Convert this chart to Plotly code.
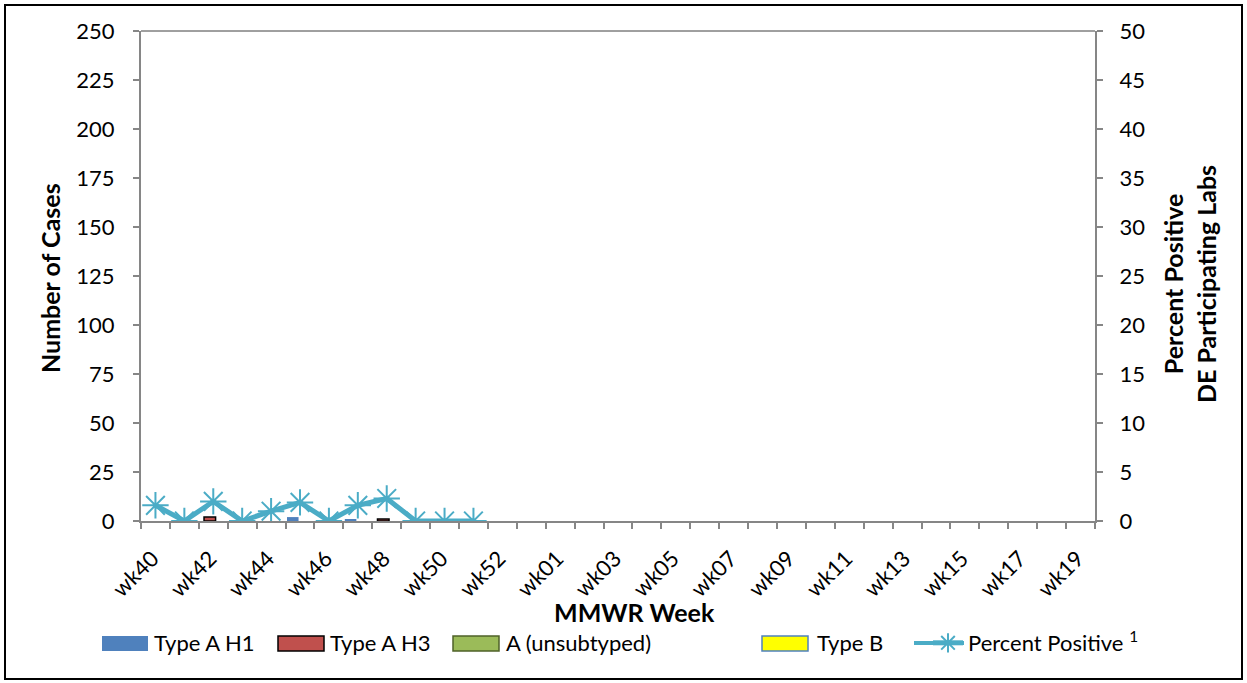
import plotly.graph_objects as go

weeks = [f"wk{w}" for w in range(40, 54)] + [f"wk{w:02d}" for w in range(1, 20)]
n = len(weeks)

type_a_h1 = [0, 0, 0, 0, 0, 2, 0, 1, 0] + [0] * (n - 9)
type_a_h3 = [0, 0, 2, 0, 0, 0, 0, 0, 1] + [0] * (n - 9)
a_unsubtyped = [0] * n
type_b = [0] * n
pct_positive = [1.6, 0, 2.0, 0, 1.0, 1.9, 0, 1.6, 2.3, 0, 0, 0] + [None] * (n - 12)

tick_text = [w if i % 2 == 0 else "" for i, w in enumerate(weeks)]

FONT = "Lato"
W, H = 1245, 681
L, T = 141, 31
PR, PB = 1095, 521  # plot right / bottom in page pixels
R, B = W - PR, H - PB
pw, ph = PR - L, PB - T


def px(x):
    return (x - L) / pw


def py(y):
    return (PB - y) / ph


def lw(vals, w):
    return [w if v else 0 for v in vals]


fig = go.Figure()

bw = 0.4
series = [
    ("Type A H1", type_a_h1, "#4F81BD", "#4F81BD", 0.0, -0.45),
    ("Type A H3", type_a_h3, "#C0504D", "black", 1.5, -0.32),
    ("A (unsubtyped)", a_unsubtyped, "#9BBB59", "#4F6228", 1.5, -0.15),
    ("Type B", type_b, "#FFFF00", "#4F81BD", 1.5, 0.0),
]
for name, vals, fill, edge, ew, off in series:
    fig.add_trace(go.Bar(x=weeks, y=vals, name=name, width=bw, offset=off,
                         showlegend=False,
                         marker=dict(color=fill, line=dict(color=edge, width=lw(vals, ew)))))

fig.add_trace(go.Scatter(x=weeks, y=pct_positive, name="Percent Positive <sup>1</sup>",
                         yaxis="y2", mode="lines+markers", connectgaps=False,
                         line=dict(color="#4BACC6", width=5),
                         marker=dict(symbol="asterisk-open", size=22, color="#4BACC6",
                                     line=dict(color="#4BACC6", width=2))))

fig.update_layout(
    width=W, height=H,
    margin=dict(l=L, r=R, t=T, b=B, pad=0),
    paper_bgcolor="white", plot_bgcolor="white",
    font=dict(family=FONT, size=22, color="black"),
    barmode="overlay",
    showlegend=True,
    legend=dict(orientation="h", x=px(928), y=py(643), xanchor="left", yanchor="middle",
                font=dict(size=22), bgcolor="rgba(0,0,0,0)"),
    xaxis=dict(type="category", categoryorder="array", categoryarray=weeks,
               range=[-0.5, n - 0.5],
               tickmode="array", tickvals=weeks, ticktext=tick_text, tickangle=-45,
               ticks="outside", ticklen=6, tickcolor="#868686", tickwidth=2,
               tickson="boundaries", ticklabelstandoff=14, ticklabelshift=-3,
               showline=True, linecolor="#868686", linewidth=2,
               showgrid=False, zeroline=False, tickfont=dict(size=22)),
    yaxis=dict(range=[0, 250], dtick=25, tick0=0, ticks="outside", ticklen=6,
               tickcolor="#868686", tickwidth=2, showline=True, linecolor="#868686",
               linewidth=2, showgrid=False, zeroline=False, tickfont=dict(size=22),
               ticklabelstandoff=14),
    yaxis2=dict(range=[0, 50], dtick=5, tick0=0, overlaying="y", side="right",
                ticks="outside", ticklen=6, tickcolor="#868686", tickwidth=2,
                showline=True, linecolor="#868686", linewidth=2, showgrid=False,
                zeroline=False, tickfont=dict(size=22), ticklabelstandoff=12),
)

fig.add_shape(type="line", xref="paper", yref="paper", x0=0, x1=1, y0=1, y1=1,
              line=dict(color="#404040", width=1))
fig.add_shape(type="rect", xref="paper", yref="paper",
              x0=px(5), x1=px(1242), y0=py(5), y1=py(679),
              line=dict(color="black", width=2))

# legend glyphs for bar series (wide rectangles as in the reference)
legend_items = [
    ("Type A H1", "#4F81BD", "#4F81BD", 0, 102, 152),
    ("Type A H3", "#C0504D", "black", 1.5, 278, 328),
    ("A (unsubtyped)", "#9BBB59", "#4F6228", 1.5, 453, 504),
    ("Type B", "#FFFF00", "#4F81BD", 1.5, 762, 815),
]
for text, fill, edge, ew, sx, tx in legend_items:
    fig.add_shape(type="rect", xref="paper", yref="paper",
                  x0=px(sx), x1=px(sx + 46), y0=py(651), y1=py(636),
                  fillcolor=fill, line=dict(color=edge, width=ew))
    fig.add_annotation(text=text, xref="paper", yref="paper", x=px(tx), y=py(643),
                       xanchor="left", yanchor="middle", showarrow=False,
                       font=dict(size=22))
# extend the line glyph of the plotly legend entry to the reference's width
fig.add_shape(type="line", xref="paper", yref="paper",
              x0=px(914), x1=px(964), y0=py(643), y1=py(643),
              line=dict(color="#4BACC6", width=4))

fig.add_annotation(text="<b>Number of Cases</b>", xref="paper", yref="paper",
                   x=px(50), y=py(278), textangle=-90, showarrow=False,
                   font=dict(size=25), xanchor="center", yanchor="middle")
fig.add_annotation(text="<b>Percent Positive<br>DE Participating Labs</b>", xref="paper",
                   yref="paper", x=px(1189), y=py(284), textangle=-90, showarrow=False,
                   font=dict(size=25), xanchor="center", yanchor="middle")
fig.add_annotation(text="<b>MMWR Week</b>", xref="paper", yref="paper",
                   x=px(634), y=py(612), showarrow=False, font=dict(size=25),
                   xanchor="center", yanchor="middle")

fig.write_html("out.html", config={"displayModeBar": False},
               post_script="document.body.style.margin='0';document.body.style.padding='0';document.body.style.overflow='hidden';")
